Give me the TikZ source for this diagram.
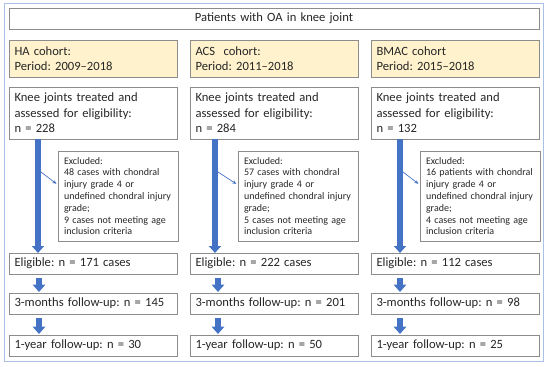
\documentclass[tikz,border=0pt]{standalone}
\usepackage{fontspec}
\setmainfont{Carlito}
\usetikzlibrary{arrows.meta}
\definecolor{framec}{HTML}{A9C1E6}
\definecolor{boxc}{HTML}{8C8C8C}
\definecolor{cohfill}{HTML}{FFF2CC}
\definecolor{arrc}{HTML}{4472C4}
\definecolor{txt}{HTML}{262626}
\frenchspacing
\newcommand\exl[1]{\mbox{#1}}
\begin{document}
\begin{tikzpicture}[x=1pt,y=-1pt,
  box/.style={draw=boxc,line width=0.9pt,rectangle,anchor=north west,outer sep=0pt,inner xsep=5.5pt,inner ysep=0pt,
    align=left,text=txt,font=\fontsize{12.6}{15.5}\selectfont},
  cohbox/.style={box,fill=cohfill},
  exbox/.style={box,font=\fontsize{10}{11.8}\selectfont,inner xsep=6pt,text width=108pt,minimum width=120pt,minimum height=90pt},
  colbox/.style={box,text width=157pt,minimum width=168pt},
  bigarr/.style={draw=arrc,line width=6pt,-{Triangle[width=12pt,length=7pt]}},
  smallarr/.style={draw=arrc,line width=6pt,-{Triangle[width=12.5pt,length=7.5pt]},shorten <=4pt,shorten >=1pt},
  thinarr/.style={draw=arrc,line width=0.7pt,-{Stealth[length=4pt,width=3.5pt]},shorten >=2pt}]
\useasboundingbox (0,0) rectangle (550,367);
\draw[framec,line width=1pt] (4,3) rectangle (543,361);
\node[box,align=center,text width=519pt,minimum width=530pt,minimum height=21pt] (title) at (9,8) {Patients with OA in knee joint};
% cohorts
\node[cohbox,colbox,minimum height=37pt] (hac) at (9,40) {HA cohort:\\Period: 2009--2018};
\node[cohbox,colbox,minimum height=37pt] (acc) at (190,40) {ACS\ \ cohort:\\Period: 2011--2018};
\node[cohbox,colbox,minimum height=37pt] (bmc) at (371,40) {BMAC cohort\\Period: 2015--2018};
% knee
\node[colbox,minimum height=52pt] (hak) at (9,87) {Knee joints treated and\\assessed for eligibility:\\n = 228};
\node[colbox,minimum height=52pt] (ack) at (190,87) {Knee joints treated and\\assessed for eligibility:\\n = 284};
\node[colbox,minimum height=52pt] (bmk) at (371,87) {Knee joints treated and\\assessed for eligibility:\\n = 132};
% excluded
\node[exbox] (hax) at (58,151) {\exl{Excluded:}\\\exl{48 cases with chondral}\\\exl{injury grade 4 or}\\\exl{undefined chondral injury}\\\exl{grade;}\\\exl{9 cases not meeting age}\\\exl{inclusion criteria}};
\node[exbox] (acx) at (238,151) {\exl{Excluded:}\\\exl{57 cases with chondral}\\\exl{injury grade 4 or}\\\exl{undefined chondral injury}\\\exl{grade;}\\\exl{5 cases not meeting age}\\\exl{inclusion criteria}};
\node[exbox] (bmx) at (420,151) {\exl{Excluded:}\\\exl{16 patients with chondral}\\\exl{injury grade 4 or}\\\exl{undefined chondral injury}\\\exl{grade;}\\\exl{4 cases not meeting age}\\\exl{inclusion criteria}};
% eligible
\node[colbox,minimum height=21pt] (hae) at (9,253) {Eligible: n = 171 cases};
\node[colbox,minimum height=21pt] (ace) at (190,253) {Eligible: n = 222 cases};
\node[colbox,minimum height=21pt] (bme) at (371,253) {Eligible: n = 112 cases};
% 3 months
\node[colbox,minimum height=21pt] (ha3) at (9,293) {3-months follow-up: n = 145};
\node[colbox,minimum height=21pt] (ac3) at (190,293) {3-months follow-up: n = 201};
\node[colbox,minimum height=21pt] (bm3) at (371,293) {3-months follow-up: n = 98};
% 1 year
\node[colbox,minimum height=21pt] (ha1) at (9,335) {1-year follow-up: n = 30};
\node[colbox,minimum height=21pt] (ac1) at (190,335) {1-year follow-up: n = 50};
\node[colbox,minimum height=21pt] (bm1) at (371,335) {1-year follow-up: n = 25};
% big arrows
\draw[bigarr] ([xshift=29pt]hak.south west) -- ([xshift=29pt]hae.north west);
\draw[bigarr] ([xshift=25pt]ack.south west) -- ([xshift=25pt]ace.north west);
\draw[bigarr] ([xshift=29pt]bmk.south west) -- ([xshift=29pt]bme.north west);
% thin arrows
\coordinate (has) at (41,172);
\coordinate (acs) at (218,172);
\coordinate (bms) at (403,172);
\draw[thinarr] (has) -- ([yshift=11pt]hax.west);
\draw[thinarr] (acs) -- ([yshift=11pt]acx.west);
\draw[thinarr] (bms) -- ([yshift=11pt]bmx.west);
% small arrows
\draw[smallarr] ([xshift=30pt]hae.south west) -- ([xshift=30pt]ha3.north west);
\draw[smallarr] ([xshift=30pt]ha3.south west) -- ([xshift=30pt]ha1.north west);
\draw[smallarr] ([xshift=28pt]ace.south west) -- ([xshift=28pt]ac3.north west);
\draw[smallarr] ([xshift=28pt]ac3.south west) -- ([xshift=28pt]ac1.north west);
\draw[smallarr] ([xshift=29pt]bme.south west) -- ([xshift=29pt]bm3.north west);
\draw[smallarr] ([xshift=29pt]bm3.south west) -- ([xshift=29pt]bm1.north west);
\end{tikzpicture}
\end{document}
